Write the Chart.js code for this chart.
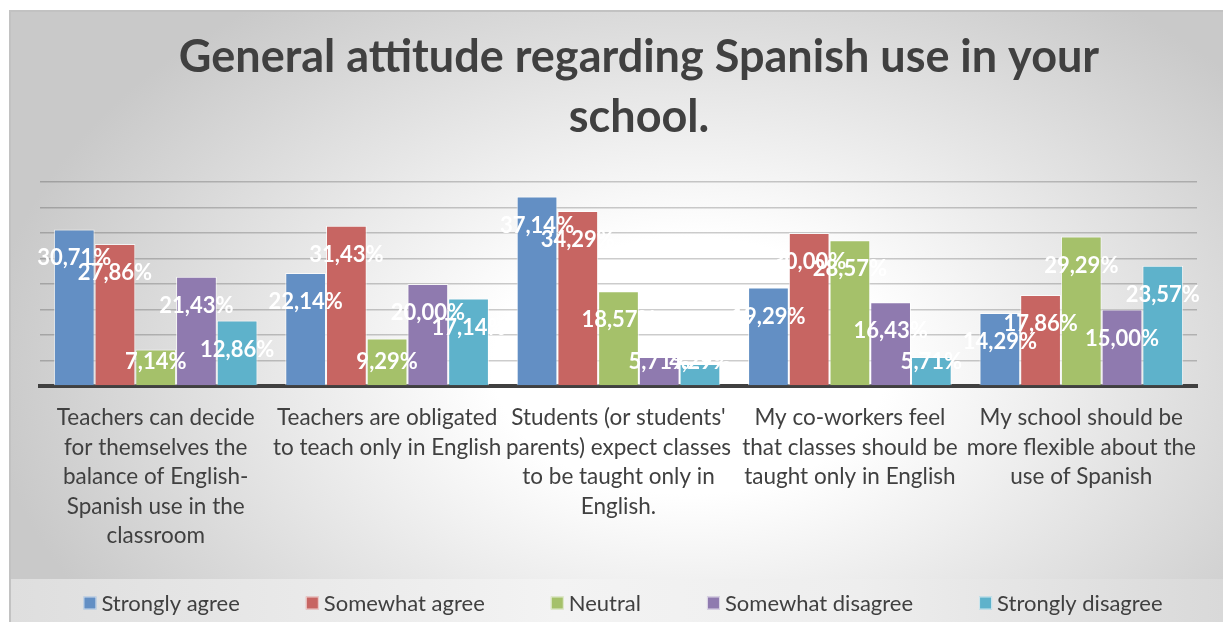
<!DOCTYPE html>
<html>
<head>
<meta charset="utf-8">
<script src="https://cdn.jsdelivr.net/npm/chart.js@4.4.1/dist/chart.umd.min.js"></script>
<style>
  html, body { margin: 0; padding: 0; background: #fff; }
  #wrap { position: relative; width: 1223px; height: 622px; overflow: hidden; }
  #frame {
    position: absolute; left: 9px; top: 10px; right: 0; bottom: 0;
    border-top: 2px solid #c2c2c2; border-left: 2px solid #c2c2c2;
    background: radial-gradient(ellipse 58% 75% at 56% 58%, #ffffff 0%, #ffffff 28%, #c9c9c9 100%);
  }
  #band {
    position: absolute; left: 11px; top: 579px; right: 0; bottom: 0;
    background: linear-gradient(to right, #dedede 0%, #f3f3f3 45%, #eeeeee 70%, #d9d9d9 100%);
  }
  canvas { position: absolute; left: 0; top: 0; }
</style>
</head>
<body>
<div id="wrap">
  <div id="frame"></div>
  <div id="band"></div>
  <canvas id="chart" width="1223" height="622"></canvas>
</div>
<script>
// Data
const categories = [
  ['Teachers can decide', 'for themselves the', 'balance of English-', 'Spanish use in the', 'classroom'],
  ['Teachers are obligated', 'to teach only in English'],
  ["Students (or students'", 'parents) expect classes', 'to be taught only in', 'English.'],
  ['My co-workers feel', 'that classes should be', 'taught only in English'],
  ['My school should be', 'more flexible about the', 'use of Spanish']
];
const seriesNames = ['Strongly agree', 'Somewhat agree', 'Neutral', 'Somewhat disagree', 'Strongly disagree'];
const stronglyAgree    = [30.71, 22.14, 37.14, 19.29, 14.29];
const somewhatAgree    = [27.86, 31.43, 34.29, 30.00, 17.86];
const neutral          = [7.14, 9.29, 18.57, 28.57, 29.29];
const somewhatDisagree = [21.43, 20.00, 5.71, 16.43, 15.00];
const stronglyDisagree = [12.86, 17.14, 4.29, 5.71, 23.57];
const colors = ['#638fc4', '#c76562', '#a5c16a', '#8f7aaf', '#5eb2cb'];

const FONT = 'Lato, "Open Sans", sans-serif';
const TEXT = '#404040';

// white value labels near the top of each bar
const barLabels = {
  id: 'barLabels',
  afterDatasetsDraw(chart) {
    const ctx = chart.ctx;
    ctx.save();
    ctx.font = 'bold 22px ' + FONT;
    ctx.fillStyle = '#ffffff';
    ctx.textAlign = 'center';
    ctx.textBaseline = 'middle';
    chart.data.datasets.forEach((ds, i) => {
      const meta = chart.getDatasetMeta(i);
      meta.data.forEach((bar, j) => {
        const y = Math.min(bar.y + 29, bar.base - 23);
        ctx.fillText(ds.data[j].toFixed(2).replace('.', ',') + '%', bar.x, y);
      });
    });
    ctx.restore();
  }
};

// legend row at the bottom, drawn from the datasets
const bottomLegend = {
  id: 'bottomLegend',
  afterDraw(chart) {
    const ctx = chart.ctx;
    const box = 13, gap = 5, spacing = 66, centerX = 623, y = 603;
    ctx.save();
    ctx.font = '22px ' + FONT;
    ctx.textBaseline = 'middle';
    ctx.textAlign = 'left';
    const items = chart.data.datasets.map(ds => ({
      text: ds.label, color: ds.backgroundColor, w: ctx.measureText(ds.label).width
    }));
    const total = items.reduce((s, it) => s + box + gap + it.w, 0) + spacing * (items.length - 1);
    let x = centerX - total / 2;
    items.forEach(it => {
      ctx.fillStyle = it.color;
      ctx.fillRect(x, y - box / 2, box, box);
      ctx.strokeStyle = 'rgba(255,255,255,0.7)';
      ctx.lineWidth = 1;
      ctx.strokeRect(x + 0.5, y - box / 2 + 0.5, box - 1, box - 1);
      ctx.fillStyle = TEXT;
      ctx.fillText(it.text, x + box + gap, y + 1);
      x += box + gap + it.w + spacing;
    });
    ctx.restore();
  }
};

const allSeries = [stronglyAgree, somewhatAgree, neutral, somewhatDisagree, stronglyDisagree];

new Chart(document.getElementById('chart'), {
  type: 'bar',
  data: {
    labels: categories,
    datasets: allSeries.map((vals, i) => ({
      label: seriesNames[i],
      data: vals,
      backgroundColor: colors[i],
      borderColor: 'rgba(255,255,255,0.7)',
      borderWidth: 1,
      categoryPercentage: 0.88,
      barPercentage: 1.0
    }))
  },
  options: {
    responsive: false,
    animation: false,
    layout: { padding: { left: 40, right: -15, top: 0, bottom: 71 } },
    plugins: {
      title: {
        display: true,
        text: ['General attitude regarding Spanish use in your', 'school.'],
        color: TEXT,
        font: { family: FONT, size: 45, weight: 'bold', lineHeight: 60 / 45 },
        padding: { top: 27, bottom: 35 }
      },
      legend: { display: false },
      tooltip: { enabled: false }
    },
    scales: {
      x: {
        grid: { display: false, drawTicks: false },
        border: { display: true, color: '#404040', width: 4 },
        ticks: {
          color: TEXT,
          font: { family: FONT, size: 22.5, lineHeight: 29.5 / 22.5 },
          padding: 17,
          maxRotation: 0,
          autoSkip: false
        },
        afterFit(scale) { scale.height = 165; }
      },
      y: {
        min: 0,
        max: 40,
        ticks: { display: false, stepSize: 5 },
        grid: { color: 'rgba(0,0,0,0.2)', lineWidth: 1.5, drawTicks: false },
        border: { display: false }
      },
      y2: {
        position: 'right',
        grid: { display: false, drawTicks: false },
        ticks: { display: false },
        border: { display: false },
        afterFit(scale) { scale.width = 41; }
      }
    }
  },
  plugins: [barLabels, bottomLegend]
});
</script>
</body>
</html>
